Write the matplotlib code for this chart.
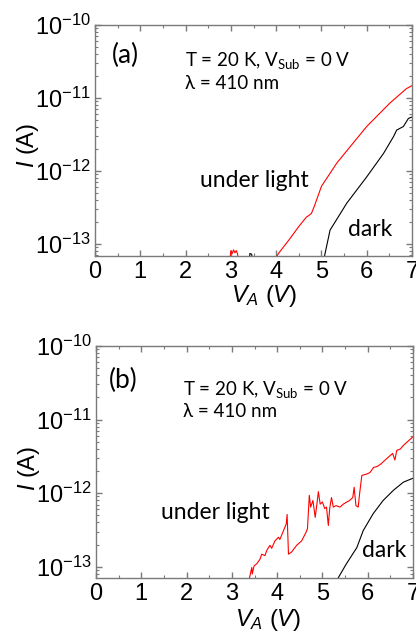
import numpy as np
import matplotlib
matplotlib.use('Agg')
import matplotlib.pyplot as plt
from matplotlib.ticker import LogLocator, MultipleLocator, NullFormatter

plt.rcParams['font.family'] = 'Liberation Sans'
plt.rcParams['mathtext.fontset'] = 'custom'
plt.rcParams['mathtext.rm'] = 'Liberation Sans'
plt.rcParams['mathtext.it'] = 'Liberation Sans:italic'
plt.rcParams['mathtext.sf'] = 'Lato'

# panel (a): smooth curves, log10 of current
va_red = [2.95, 3.0, 3.03, 3.06, 3.09, 3.12, 3.15, 3.18,
          3.97, 4.05, 4.3, 4.5, 4.67, 4.72, 4.78, 4.85, 5.0, 5.34, 5.63, 6.0, 6.51, 6.88, 7.0]
la_red = [-13.4, -13.09, -13.13, -13.08, -13.12, -13.09, -13.14, -13.4,
          -13.22, -13.13, -12.93, -12.76, -12.63, -12.61, -12.58, -12.47, -12.21, -11.89,
          -11.67, -11.39, -11.07, -10.87, -10.83]
va_dark = [3.38, 3.42, 3.46, 3.5,
           5.04, 5.08, 5.19, 5.56, 6.0, 6.37, 6.59, 6.63, 6.66, 6.81, 6.92, 7.0]
la_dark = [-13.4, -13.13, -13.14, -13.4,
           -13.25, -13.13, -12.81, -12.44, -12.08, -11.76, -11.53, -11.48, -11.44, -11.39,
           -11.28, -11.26]

# panel (b): noisy light curve
vb_red = [3.36, 3.39, 3.44, 3.45, 3.49, 3.55, 3.62, 3.66, 3.73, 3.77, 3.84, 3.88, 3.95,
          4.03, 4.06, 4.14, 4.20, 4.22, 4.25, 4.32, 4.43, 4.54, 4.64, 4.67, 4.71, 4.74,
          4.79, 4.84, 4.87, 4.91, 4.95, 5.0, 5.05, 5.09, 5.13, 5.16, 5.20, 5.24, 5.30,
          5.39, 5.46, 5.54, 5.60, 5.67, 5.70, 5.74, 5.79, 5.82, 5.87, 5.98, 6.05, 6.13,
          6.20, 6.28, 6.35, 6.42, 6.55, 6.60, 6.64, 6.72, 6.79, 6.88, 6.99]
lb_red = [-13.3, -13.15, -13.01, -13.10, -12.99, -12.96, -12.90, -12.83, -12.85, -12.78,
          -12.71, -12.75, -12.65, -12.60, -12.63, -12.51, -12.42, -12.29, -12.83, -12.80,
          -12.71, -12.65, -12.53, -12.48, -12.03, -12.19, -12.10, -12.33, -12.19, -11.98,
          -12.15, -12.12, -12.21, -12.19, -12.44, -12.21, -12.06, -12.19, -12.17, -12.19,
          -12.15, -12.12, -12.10, -12.06, -11.92, -12.17, -12.19, -12.01, -11.76, -11.74,
          -11.72, -11.65, -11.64, -11.61, -11.57, -11.53, -11.46, -11.55, -11.42, -11.40,
          -11.35, -11.30, -11.24]
vb_dark = [5.30, 5.35, 5.53, 5.76, 5.90, 6.12, 6.34, 6.57, 6.79, 6.99]
lb_dark = [-13.3, -13.15, -12.96, -12.74, -12.51, -12.28, -12.10, -11.96, -11.85, -11.80]

xticks = [0, 1, 2, 3, 4, 5, 6, 7]

panels = [
    dict(tag='(a)', rect=[0.2284, 0.5954, 0.762, 0.365], ymin=10**-13.16,
         red=(va_red, la_red), dark=(va_dark, la_dark),
         tagpos=(0.054, 0.87), tpos=(0.284, 0.824), lpos=(0.284, 0.721),
         ulpos=(0.331, 0.299), dpos=(0.799, 0.087),
         ylab=(-0.17, 0.48), xlab=(0.533, -0.118)),
    dict(tag='(b)', rect=[0.2308, 0.0859, 0.762, 0.3666], ymin=10**-13.15,
         red=(vb_red, lb_red), dark=(vb_dark, lb_dark),
         tagpos=(0.041, 0.85), tpos=(0.275, 0.789), lpos=(0.275, 0.695),
         ulpos=(0.205, 0.252), dpos=(0.84, 0.088),
         ylab=(-0.17, 0.473), xlab=(0.543, -0.126)),
]

fig = plt.figure(figsize=(4.16, 6.32), dpi=100)
spine_col = '#7a7a7a'

for p in panels:
    ax = fig.add_axes(p['rect'])
    rx, ry = p['red']
    dx, dy = p['dark']
    ax.plot(rx, 10 ** np.array(ry), color='#ff0000', lw=0.8)
    ax.plot(dx, 10 ** np.array(dy), color='black', lw=0.8)
    ax.set_yscale('log')
    ax.set_xlim(0, 7)
    ax.set_ylim(p['ymin'], 1e-10)
    ax.set_xticks(xticks)
    ax.xaxis.set_minor_locator(MultipleLocator(0.5))
    ax.yaxis.set_major_locator(LogLocator(base=10, numticks=10))
    ax.yaxis.set_minor_locator(LogLocator(base=10, subs=np.arange(2, 10), numticks=20))
    ax.yaxis.set_minor_formatter(NullFormatter())
    ax.tick_params(which='both', direction='in', top=True, right=True,
                   color=spine_col, labelsize=17, labelcolor='black')
    ax.tick_params(which='major', length=4, width=1.0)
    ax.tick_params(which='minor', length=2.5, width=0.8)
    ax.tick_params(axis='x', pad=4)
    ax.tick_params(axis='y', pad=3)
    for s in ax.spines.values():
        s.set_color(spine_col)
        s.set_linewidth(1.0)

    ax.set_ylabel(r'$\mathit{I}$ (A)', fontsize=17)
    ax.yaxis.set_label_coords(*p['ylab'])
    ax.set_xlabel(r'$\mathit{V_A}$ $\mathit{(V)}$', fontsize=17, va='top')
    ax.xaxis.set_label_coords(*p['xlab'])

    ax.text(*p['tagpos'], p['tag'], transform=ax.transAxes, family='Lato',
            fontsize=19, ha='left', va='center')
    ax.text(*p['tpos'], r'T = 20 K, $\mathsf{V_{Sub}}$ = 0 V', transform=ax.transAxes,
            family='Lato', fontsize=13.5, ha='left', va='baseline')
    ax.text(*p['lpos'], 'λ = 410 nm', transform=ax.transAxes, family='Lato',
            fontsize=13.5, ha='left', va='baseline')
    ax.text(*p['ulpos'], 'under light', transform=ax.transAxes, family='Lato',
            fontsize=16.5, ha='left', va='baseline')
    ax.text(*p['dpos'], 'dark', transform=ax.transAxes, family='Lato',
            fontsize=16.5, ha='left', va='baseline')

fig.savefig('out.png', dpi=100)
